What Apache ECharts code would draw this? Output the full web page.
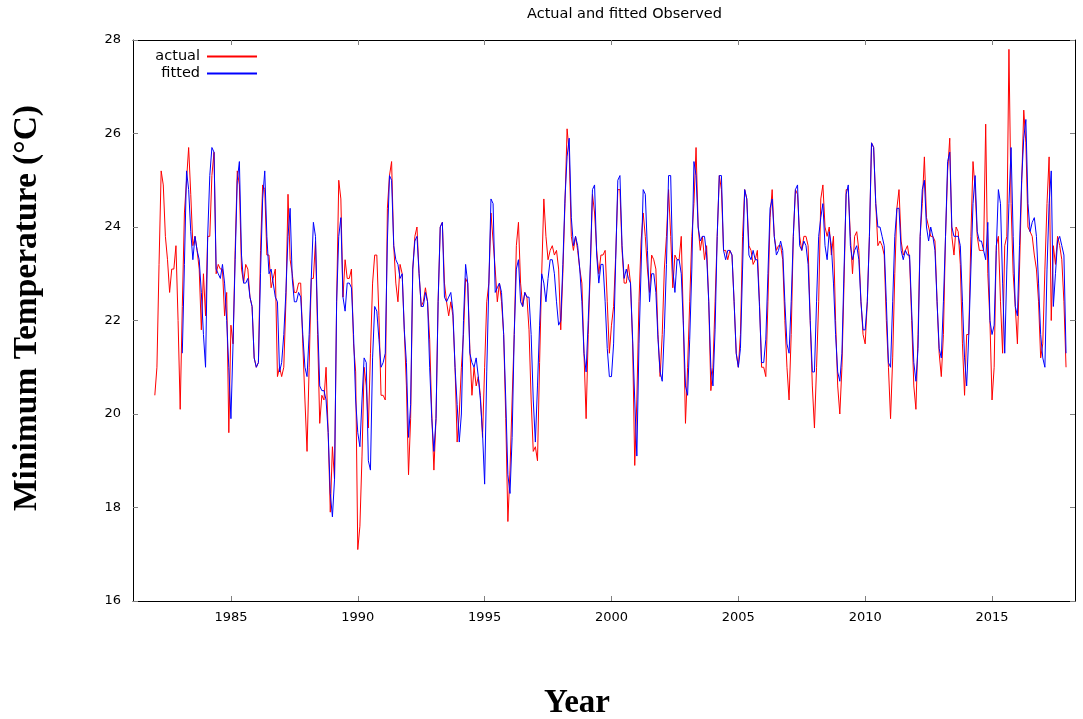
<!DOCTYPE html>
<html>
<head>
<meta charset="utf-8">
<script src="https://cdn.jsdelivr.net/npm/echarts@6/dist/echarts.min.js"></script>
<style>
  html, body { margin: 0; padding: 0; background: #ffffff; }
  #chart { width: 1083px; height: 719px; }
</style>
</head>
<body>
<div id="chart"></div>
<script>
// Monthly series, January 1982 to December 2017, one row per year.
const startYear = 1982;
const yearTicks = [1985, 1990, 1995, 2000, 2005, 2010, 2015];
const tempTicks = [16, 18, 20, 22, 24, 26, 28];

const actual = [
  20.4, 21.0, 23.2, 25.2, 24.9, 23.8, 23.3, 22.6, 23.1, 23.1, 23.6, 22.0,
  20.1, 22.3, 24.3, 25.0, 25.7, 24.7, 23.6, 23.8, 23.5, 23.1, 21.8, 23.0,
  22.1, 23.8, 23.8, 25.1, 25.6, 23.0, 23.2, 23.1, 23.1, 22.1, 22.6, 19.6,
  21.9, 21.5, 23.5, 25.2, 24.9, 23.1, 22.8, 23.2, 23.1, 22.5, 22.3, 21.2,
  21.0, 21.1, 23.5, 24.9, 24.8, 23.4, 23.4, 22.7, 22.9, 23.1, 20.8, 21.0,
  20.8, 21.0, 22.4, 24.7, 23.3, 23.0, 22.6, 22.6, 22.8, 22.8, 21.5, 20.3,
  19.2, 21.0, 22.9, 22.9, 23.7, 21.7, 19.8, 20.4, 20.3, 21.0, 19.6, 17.9,
  19.3, 18.6, 22.4, 25.0, 24.6, 22.5, 23.3, 22.9, 22.9, 23.1, 21.5, 20.9,
  17.1, 17.6, 19.1, 21.0, 20.6, 19.7, 21.3, 22.8, 23.4, 23.4, 22.1, 20.4,
  20.4, 20.3, 24.4, 25.1, 25.4, 23.6, 22.8, 22.4, 23.2, 23.0, 21.8, 20.6,
  18.7, 19.9, 23.1, 23.8, 24.0, 23.0, 22.3, 22.4, 22.7, 22.4, 21.6, 20.0,
  18.8, 19.9, 22.4, 24.0, 24.1, 22.8, 22.4, 22.1, 22.4, 22.1, 21.0, 19.4,
  20.0, 21.0, 21.7, 22.9, 22.8, 21.4, 20.4, 21.0, 20.6, 20.8, 20.4, 19.5,
  21.0, 22.4, 22.8, 24.3, 23.7, 23.1, 22.4, 22.8, 22.4, 21.7, 19.9, 17.7,
  18.8, 20.3, 21.7, 23.6, 24.1, 22.8, 22.3, 22.6, 22.5, 21.8, 20.3, 19.2,
  19.3, 19.0, 21.1, 23.0, 24.6, 23.8, 23.3, 23.5, 23.6, 23.4, 23.5, 23.1,
  21.8, 23.0, 24.5, 26.1, 25.6, 23.8, 23.5, 23.8, 23.5, 23.1, 22.8, 21.3,
  19.9, 21.7, 23.1, 24.7, 24.3, 23.5, 23.0, 23.4, 23.4, 23.5, 22.4, 21.3,
  21.9, 22.3, 23.4, 24.8, 24.8, 23.5, 22.8, 22.8, 23.2, 22.8, 21.5, 18.9,
  20.3, 22.4, 23.7, 24.3, 23.8, 23.1, 22.6, 23.4, 23.3, 23.1, 21.7, 20.8,
  21.7, 23.1, 23.8, 24.8, 23.8, 22.7, 23.4, 23.3, 23.3, 23.8, 22.0, 19.8,
  21.0, 22.4, 23.8, 24.5, 25.7, 24.0, 23.5, 23.8, 23.3, 23.6, 22.4, 20.5,
  21.0, 22.4, 23.8, 25.1, 24.8, 23.5, 23.5, 23.3, 23.5, 23.4, 22.4, 21.3,
  21.0, 21.7, 23.8, 24.8, 24.6, 23.6, 23.5, 23.2, 23.3, 23.5, 22.4, 21.0,
  21.0, 20.8, 22.4, 24.2, 24.8, 23.8, 23.5, 23.6, 23.6, 23.3, 22.0, 21.0,
  20.3, 21.7, 23.8, 24.8, 24.7, 23.8, 23.5, 23.8, 23.8, 23.6, 22.0, 20.6,
  19.7, 21.0, 22.4, 24.6, 24.9, 24.0, 23.8, 24.0, 23.4, 23.8, 22.0, 20.6,
  20.0, 21.0, 22.8, 24.8, 24.8, 23.8, 23.0, 23.8, 23.9, 23.5, 22.4, 21.7,
  21.5, 22.4, 23.8, 25.8, 25.7, 24.5, 23.6, 23.7, 23.6, 23.4, 22.0, 21.0,
  19.9, 21.2, 23.0, 24.4, 24.8, 23.7, 23.4, 23.5, 23.6, 23.3, 22.0, 20.6,
  20.1, 21.7, 23.8, 24.5, 25.5, 24.2, 24.0, 23.8, 23.8, 23.7, 22.4, 21.3,
  20.8, 21.7, 23.8, 25.2, 25.9, 23.8, 23.4, 24.0, 23.9, 23.2, 21.5, 20.4,
  21.7, 21.7, 23.8, 25.4, 24.8, 23.8, 23.5, 23.5, 23.5, 26.2, 23.0, 22.0,
  20.3, 21.0, 23.6, 23.8, 22.4, 21.3, 23.6, 23.8, 27.8, 24.5, 23.0, 22.3,
  21.5, 23.1, 24.9, 26.5, 25.8, 24.0, 23.9, 23.8, 23.4, 23.1, 22.4, 21.2,
  21.5, 23.1, 24.5, 25.5, 22.0, 23.6, 23.2, 23.8, 23.6, 23.3, 22.4, 21.0
];

// Model output; no fitted value exists for the first thirteen months.
const fitted = [
  null, null, null, null, null, null, null, null, null, null, null, null,
  null, 21.3, 23.2, 25.2, 24.8, 23.9, 23.3, 23.8, 23.5, 23.3, 22.6, 21.7,
  21.0, 23.8, 25.1, 25.7, 25.6, 23.1, 23.0, 22.9, 23.2, 22.8, 22.0, 21.0,
  19.9, 21.5, 23.3, 25.0, 25.4, 23.4, 22.8, 22.8, 22.9, 22.5, 22.3, 21.2,
  21.0, 21.1, 23.0, 24.6, 25.2, 23.8, 23.0, 23.1, 22.8, 22.5, 22.4, 20.9,
  21.1, 21.7, 22.6, 23.8, 24.4, 22.9, 22.4, 22.4, 22.6, 22.5, 21.7, 21.0,
  20.8, 21.7, 22.9, 24.1, 23.8, 22.0, 20.6, 20.5, 20.5, 20.3, 19.6, 18.3,
  17.8, 18.6, 22.4, 23.8, 24.2, 22.5, 22.2, 22.8, 22.8, 22.7, 21.7, 20.3,
  19.6, 19.3, 20.3, 21.2, 21.1, 19.0, 18.8, 21.2, 22.3, 22.2, 21.6, 21.0,
  21.1, 21.3, 23.7, 25.1, 25.0, 23.6, 23.3, 23.2, 22.9, 23.0, 21.8, 21.1,
  19.5, 20.2, 23.1, 23.7, 23.8, 23.0, 22.3, 22.3, 22.6, 22.4, 21.0, 19.9,
  19.2, 19.9, 22.4, 24.0, 24.1, 22.5, 22.4, 22.5, 22.6, 22.2, 21.0, 20.2,
  19.4, 20.0, 22.0, 23.2, 22.8, 21.3, 21.1, 21.0, 21.2, 20.8, 20.3, 19.6,
  18.5, 20.9, 22.8, 24.6, 24.5, 22.6, 22.7, 22.8, 22.6, 21.7, 20.3, 18.7,
  18.3, 19.5, 21.7, 23.1, 23.3, 22.4, 22.3, 22.6, 22.5, 22.5, 21.7, 20.3,
  19.4, 20.6, 21.9, 23.0, 22.8, 22.4, 22.9, 23.3, 23.3, 23.0, 22.4, 21.9,
  22.0, 23.2, 24.6, 25.5, 25.9, 24.2, 23.6, 23.8, 23.6, 23.1, 22.4, 21.3,
  20.9, 22.0, 23.2, 24.8, 24.9, 23.4, 22.8, 23.2, 23.2, 22.4, 21.4, 20.8,
  20.8, 21.5, 23.3, 25.0, 25.1, 23.6, 22.9, 23.1, 22.9, 22.8, 21.6, 20.3,
  19.1, 21.5, 23.1, 24.8, 24.7, 23.5, 22.4, 23.0, 23.0, 22.6, 21.6, 20.9,
  20.7, 21.8, 23.2, 25.1, 25.1, 23.1, 22.6, 23.3, 23.3, 23.0, 21.9, 20.6,
  20.4, 21.6, 23.1, 25.4, 25.1, 24.0, 23.7, 23.8, 23.8, 23.4, 22.4, 21.0,
  20.6, 21.8, 23.8, 25.1, 25.1, 23.5, 23.3, 23.5, 23.5, 23.4, 22.4, 21.3,
  21.0, 21.4, 23.1, 24.8, 24.6, 23.4, 23.3, 23.5, 23.3, 23.3, 22.3, 21.1,
  21.1, 21.6, 23.0, 24.4, 24.6, 23.8, 23.4, 23.5, 23.7, 23.5, 22.4, 21.5,
  21.3, 22.4, 23.8, 24.8, 24.9, 23.6, 23.5, 23.7, 23.6, 23.2, 22.0, 20.9,
  20.9, 22.4, 23.8, 24.2, 24.5, 23.6, 23.3, 23.9, 23.6, 22.8, 21.7, 20.9,
  20.7, 21.3, 23.1, 24.7, 24.9, 23.6, 23.3, 23.5, 23.6, 23.3, 22.4, 21.8,
  21.8, 22.4, 23.8, 25.8, 25.7, 24.5, 24.0, 24.0, 23.8, 23.6, 22.4, 21.1,
  21.0, 22.4, 23.8, 24.4, 24.4, 23.5, 23.3, 23.5, 23.4, 23.4, 22.2, 21.1,
  20.7, 21.4, 23.8, 24.8, 25.0, 24.0, 23.7, 24.0, 23.8, 23.5, 22.4, 21.4,
  21.2, 22.4, 23.8, 25.4, 25.6, 24.0, 23.8, 23.8, 23.8, 23.6, 22.4, 21.2,
  20.6, 21.7, 23.1, 24.5, 25.1, 23.9, 23.7, 23.7, 23.5, 23.3, 24.1, 22.0,
  21.7, 21.9, 23.5, 24.8, 24.5, 22.8, 21.3, 23.1, 24.5, 25.7, 23.8, 22.3,
  22.1, 23.6, 25.0, 25.9, 26.3, 24.5, 23.9, 24.1, 24.2, 23.8, 22.8, 21.7,
  21.2, 21.0, 23.1, 24.5, 25.2, 22.3, 23.0, 23.7, 23.8, 23.6, 23.4, 21.3
];

// Pair each monthly value with its decimal-year position.
function toPoints(values) {
  const pts = [];
  values.forEach(function (v, i) {
    if (v !== null) pts.push([startYear + i / 12, v]);
  });
  return pts;
}

const sansFont = 'DejaVu Sans';
const tickColor = '#808080';

const chart = echarts.init(document.getElementById('chart'), null, { renderer: 'canvas' });

const xAxisBase = {
  type: 'value',
  min: 1981.14,
  max: 2018.27,
  splitLine: { show: false },
  axisLine: { show: true, onZero: false, lineStyle: { color: '#000', width: 1 } },
  axisTick: { show: true, inside: true, length: 5, customValues: yearTicks, lineStyle: { color: tickColor } }
};

const yAxisBase = {
  type: 'value',
  min: 16,
  max: 28,
  interval: 2,
  splitLine: { show: false },
  axisLine: { show: true, onZero: false, lineStyle: { color: '#000', width: 1 } },
  axisTick: { show: true, inside: true, length: 5, customValues: tempTicks, lineStyle: { color: tickColor } }
};

// One legend block per series, right-aligned so both line keys share an edge.
function legendBlock(name, top) {
  return {
    data: [name],
    right: 1083 - 258,
    top: top,
    padding: 0,
    align: 'right',
    itemWidth: 50,
    itemHeight: 14,
    itemGap: 0,
    itemStyle: { opacity: 0 },
    textStyle: { fontFamily: sansFont, fontSize: 14.5, color: '#000', padding: [0, 2, 0, 0] }
  };
}

chart.setOption({
  animation: false,
  backgroundColor: '#ffffff',
  title: {
    text: 'Actual and fitted Observed',
    left: 527,
    top: 7,
    padding: 0,
    textStyle: { fontFamily: sansFont, fontSize: 14.5, fontWeight: 'normal', color: '#000' }
  },
  legend: [legendBlock('actual', 49), legendBlock('fitted', 66)],
  grid: { left: 133, right: 8, top: 40, bottom: 118, containLabel: false },
  xAxis: [
    Object.assign({}, xAxisBase, {
      position: 'bottom',
      axisLabel: {
        show: true, customValues: yearTicks, margin: 10,
        fontFamily: sansFont, fontSize: 13, color: '#000',
        formatter: function (v) { return String(Math.round(v)); }
      }
    }),
    Object.assign({}, xAxisBase, {
      position: 'top',
      axisLabel: { show: false }
    })
  ],
  yAxis: [
    Object.assign({}, yAxisBase, {
      position: 'left',
      axisLabel: { show: true, customValues: tempTicks, margin: 12, fontFamily: sansFont, fontSize: 13, color: '#000' }
    }),
    Object.assign({}, yAxisBase, {
      position: 'right',
      axisLabel: { show: false }
    })
  ],
  graphic: [
    {
      type: 'text',
      x: 577, y: 703,
      style: {
        text: 'Year',
        font: 'bold 33px "Liberation Serif"', fill: '#000',
        textAlign: 'center', textVerticalAlign: 'middle'
      }
    },
    {
      type: 'text',
      x: 27, y: 308, rotation: Math.PI / 2,
      style: {
        text: 'Minimum Temperature (\u00B0C)',
        font: 'bold 33.5px "Liberation Serif"', fill: '#000',
        textAlign: 'center', textVerticalAlign: 'middle'
      }
    }
  ],
  series: [
    {
      name: 'actual',
      type: 'line',
      xAxisIndex: 0, yAxisIndex: 0,
      data: toPoints(actual),
      symbol: 'none',
      lineStyle: { color: '#ff0000', width: 1 },
      itemStyle: { color: '#ff0000' },
      z: 2
    },
    {
      name: 'fitted',
      type: 'line',
      xAxisIndex: 0, yAxisIndex: 0,
      data: toPoints(fitted),
      symbol: 'none',
      lineStyle: { color: '#0000ff', width: 1 },
      itemStyle: { color: '#0000ff' },
      z: 3
    }
  ]
});
</script>
</body>
</html>
